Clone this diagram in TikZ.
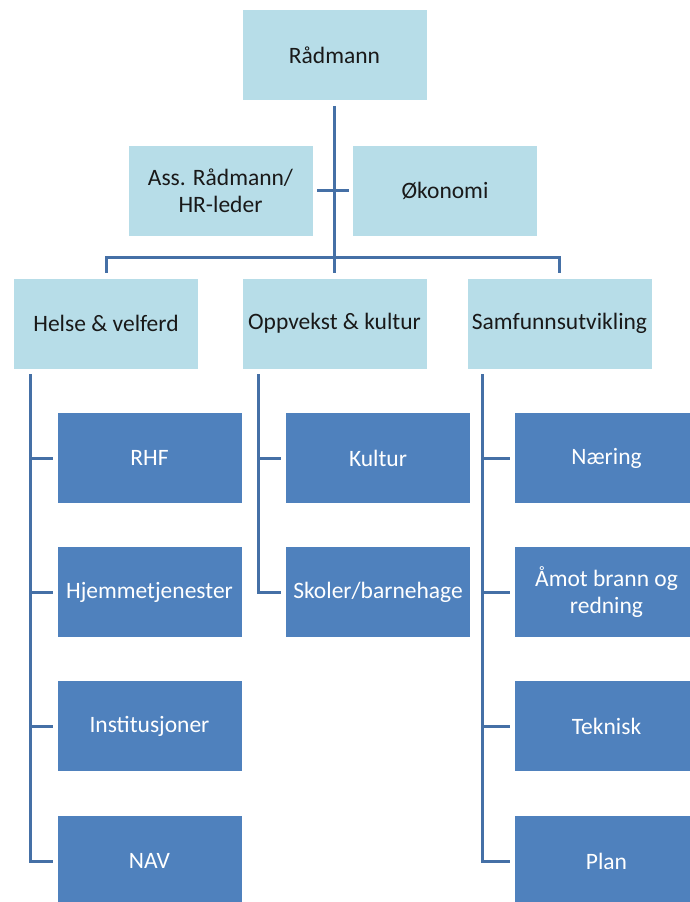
\documentclass[tikz,border=0pt]{standalone}
\usepackage{fontspec}
\setmainfont{Carlito}
\usepackage{tikz}
\usetikzlibrary{positioning, calc}
\definecolor{lightfill}{RGB}{183,221,232}
\definecolor{darkfill}{RGB}{79,129,189}
\definecolor{linecol}{RGB}{69,112,166}
\tikzset{
  lightbox/.style={rectangle, draw=white, fill=lightfill, line width=0.8pt,
    minimum width=185pt, minimum height=91pt, align=center,
    font=\fontsize{23.5}{27}\selectfont, text=black!90},
  darkbox/.style={rectangle, draw=white, fill=darkfill, line width=0.8pt,
    minimum width=185pt, minimum height=91pt, align=center,
    font=\fontsize{23.5}{27}\selectfont, text=white},
  conn/.style={line width=3pt, color=linecol}
}

\begin{document}
\begin{tikzpicture}[x=1pt, y=-1pt]
  \useasboundingbox (0,0) rectangle (689,902);

  % Top level
  \node[lightbox] (rad) at (334.5,55) {Rådmann};
  \node[lightbox] (ass) at (220.5,190.5) {Ass. Rådmann/\\HR-leder};
  \node[lightbox] (oko) at (445,190.5) {Økonomi};

  % Sectors
  \node[lightbox] (helse) at (106,323.5) {Helse \& velferd};
  \node[lightbox] (oppv) at (334.5,323.5) {Oppvekst \& kultur};
  \node[lightbox] (samf) at (559.5,323.5) {Samfunnsutvikling};

  % Units
  \node[darkbox] (rhf) at (149.5,458) {RHF};
  \node[darkbox] (hjem) at (149.5,592) {Hjemmetjenester};
  \node[darkbox] (inst) at (149.5,726) {Institusjoner};
  \node[darkbox] (nav) at (149.5,861) {NAV};

  \node[darkbox] (kult) at (378,458) {Kultur};
  \node[darkbox] (skol) at (378,592) {Skoler/barnehage};

  \node[darkbox] (naer) at (606.5,458) {Næring};
  \node[darkbox] (amot) at (606.5,592) {Åmot brann og\\redning};
  \node[darkbox] (tekn) at (606.5,726) {Teknisk};
  \node[darkbox] (plan) at (606.5,861) {Plan};

  % Connectors, top
  \coordinate (bar) at (334.5,257);
  \draw[conn] ([yshift=-5pt]rad.south) -- ([yshift=5pt]oppv.north);
  \draw[conn] ([xshift=4pt]ass.east) -- ([xshift=-3pt]oko.west);
  \draw[conn] ([yshift=5pt]helse.north) |- (bar) -| ([yshift=5pt]samf.north);

  % Connectors, units
  \coordinate (hv) at ([xshift=17pt, yshift=-5pt]helse.south west);
  \coordinate (ov) at ([xshift=17pt, yshift=-5pt]oppv.south west);
  \coordinate (sv) at ([xshift=16pt, yshift=-5pt]samf.south west);
  \draw[conn] (hv) |- ([xshift=-4pt]nav.west);
  \foreach \n in {rhf, hjem, inst}
    \draw[conn] (hv |- \n.west) -- ([xshift=-4pt]\n.west);
  \draw[conn] (ov) |- ([xshift=-4pt]skol.west);
  \draw[conn] (ov |- kult.west) -- ([xshift=-4pt]kult.west);
  \draw[conn] (sv) |- ([xshift=-4pt]plan.west);
  \foreach \n in {naer, amot, tekn}
    \draw[conn] (sv |- \n.west) -- ([xshift=-4pt]\n.west);
\end{tikzpicture}
\end{document}
